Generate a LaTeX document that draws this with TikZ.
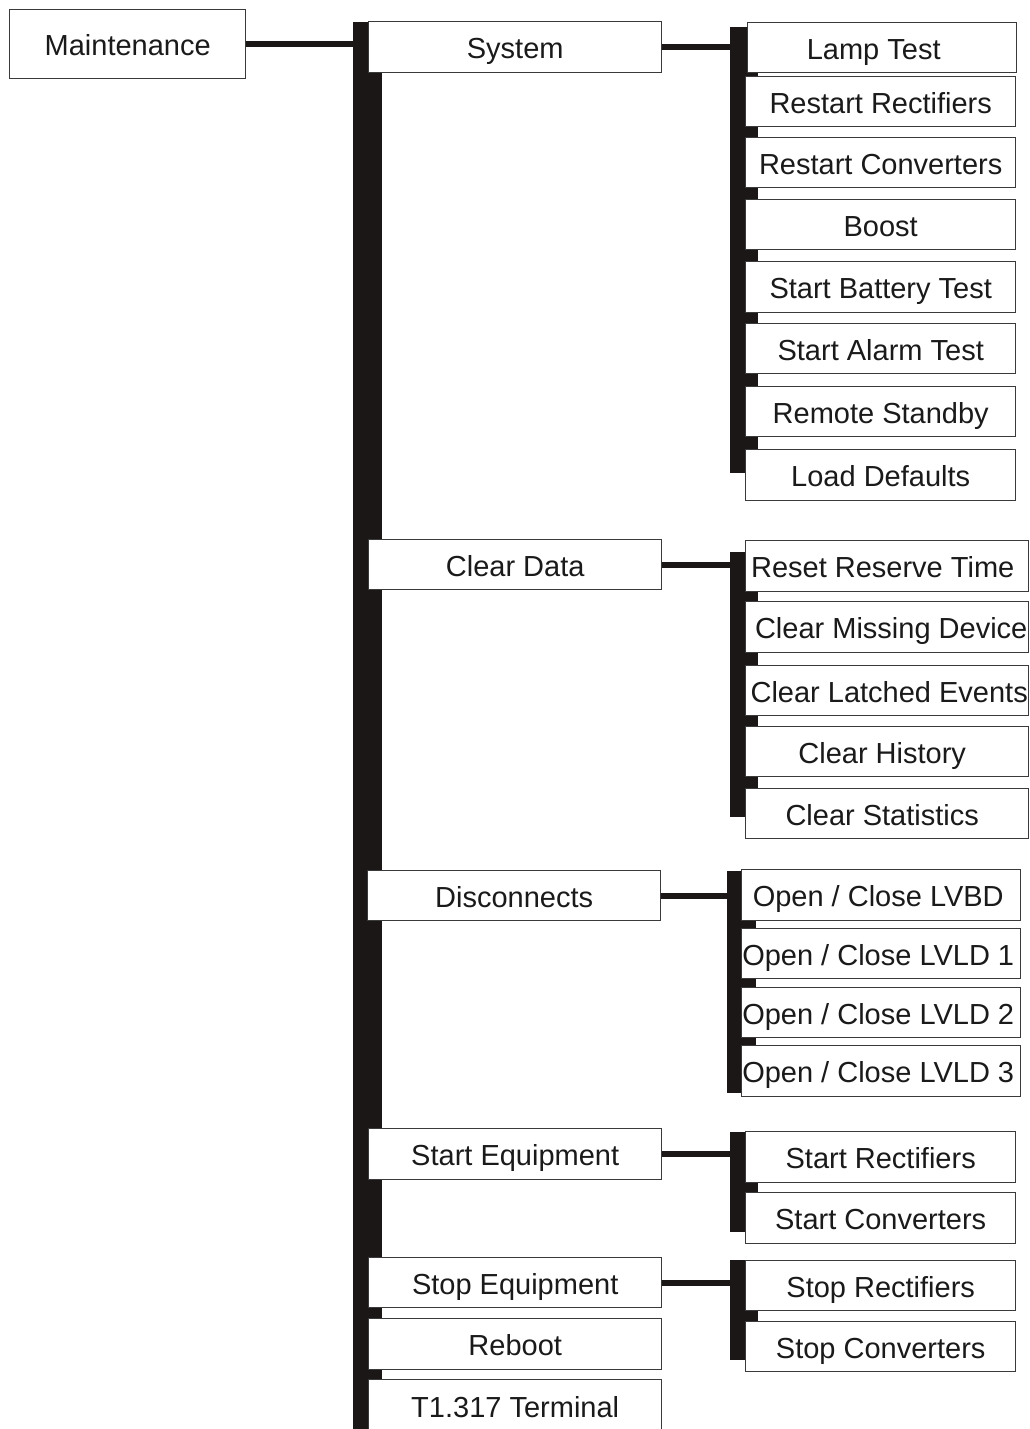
\documentclass[tikz,border=0pt]{standalone}
\usepackage{fontspec}
\setmainfont{Liberation Sans}
\usepackage{xcolor}
\definecolor{barblack}{HTML}{1C1717}
\definecolor{boxline}{HTML}{3A3A3A}
\definecolor{inktext}{HTML}{1A1A1A}

\begin{document}
\begin{tikzpicture}[x=1pt,y=-1pt,
  menu/.style={draw=boxline,line width=1.4pt,fill=white,text=inktext,inner sep=0pt,
    minimum height=50pt,anchor=north west,text height=24pt,text depth=1pt,
    font=\fontsize{29}{32}\selectfont},
  mainitem/.style={menu,minimum width=293pt},
  subitem/.style={menu,minimum width=270pt},
  tleft/.style={execute at end node={\hspace*{#1}}},
  tright/.style={execute at begin node={\hspace*{#1}}},
  bar/.style={fill=barblack,inner sep=0pt,minimum width=28pt,anchor=north west},
  link/.style={draw=barblack,line width=6pt}]
\useasboundingbox (0,0) rectangle (1029,1429);
\clip (0,0) rectangle (1029,1429);
% bars behind the boxes
\node[bar,minimum width=29pt,minimum height=1420pt] (mainbar) at (353,22) {};
\node[bar,minimum height=446pt] (sysbar) at (730,27) {};
\node[bar,minimum height=265pt] (clrbar) at (730,552) {};
\node[bar,minimum width=29pt,minimum height=222pt] (disbar) at (727,871) {};
\node[bar,minimum height=100pt] (stbar) at (730,1132) {};
\node[bar,minimum height=100pt] (spbar) at (730,1260) {};
% top level
\node[menu,minimum width=236pt,minimum height=69pt] (maint) at (9,9) {Maintenance};
\node[mainitem,minimum height=51pt] (sys) at (368,21) {System};
\node[mainitem] (clr) at (368,539) {Clear Data};
\node[mainitem] (dis) at (367,870) {Disconnects};
\node[mainitem,minimum height=51pt] (steq) at (368,1128) {Start Equipment};
\node[mainitem] (speq) at (368,1257) {Stop Equipment};
\node[mainitem,minimum height=51pt] (reb) at (368,1318) {Reboot};
\node[mainitem,minimum height=52pt] (term) at (368,1379) {T1.317 Terminal};
% system
\node[subitem,minimum width=269pt,tleft=17pt] (lamp) at (747,22) {Lamp Test};
\node[subitem] (rrect) at (745,76) {Restart Rectifiers};
\node[subitem] (rconv) at (745,137) {Restart Converters};
\node[subitem] (boost) at (745,199) {Boost};
\node[subitem,minimum height=51pt] (batt) at (745,261) {Start Battery Test};
\node[subitem] (alarm) at (745,323) {Start Alarm Test};
\node[subitem] (stby) at (745,386) {Remote Standby};
\node[subitem,minimum height=51pt] (defs) at (745,449) {Load Defaults};
% clear data
\node[subitem,minimum width=283pt,minimum height=51pt,tleft=9pt] (rres) at (745,540) {Reset Reserve Time};
\node[subitem,minimum width=283pt,minimum height=51pt,tright=8pt] (cmiss) at (745,601) {Clear Missing Device};
\node[subitem,minimum width=283pt,tright=4pt] (clatch) at (745,665) {Clear Latched Events};
\node[subitem,minimum width=283pt,tleft=10pt] (chist) at (745,726) {Clear History};
\node[subitem,minimum width=283pt,tleft=10pt] (cstat) at (745,788) {Clear Statistics};
% disconnects
\node[subitem,minimum width=279pt,minimum height=51pt,tleft=6pt] (lvbd) at (741,869) {Open / Close LVBD};
\node[subitem,minimum width=279pt,tleft=6pt] (lvld1) at (741,928) {Open / Close LVLD 1};
\node[subitem,minimum width=279pt,tleft=6pt] (lvld2) at (741,987) {Open / Close LVLD 2};
\node[subitem,minimum width=279pt,minimum height=51pt,tleft=6pt] (lvld3) at (741,1045) {Open / Close LVLD 3};
% start / stop equipment
\node[subitem,minimum height=51pt] (strect) at (745,1131) {Start Rectifiers};
\node[subitem,minimum height=51pt] (stconv) at (745,1192) {Start Converters};
\node[subitem] (sprect) at (745,1260) {Stop Rectifiers};
\node[subitem] (spconv) at (745,1321) {Stop Converters};
% connectors
\draw[link] (maint.east) -- (maint.east -| mainbar.west);
\draw[link] (sys.east) -- (sys.east -| sysbar.west);
\draw[link] (clr.east) -- (clr.east -| clrbar.west);
\draw[link] (dis.east) -- (dis.east -| disbar.west);
\draw[link] (steq.east) -- (steq.east -| stbar.west);
\draw[link] (speq.east) -- (speq.east -| spbar.west);
\end{tikzpicture}
\end{document}
